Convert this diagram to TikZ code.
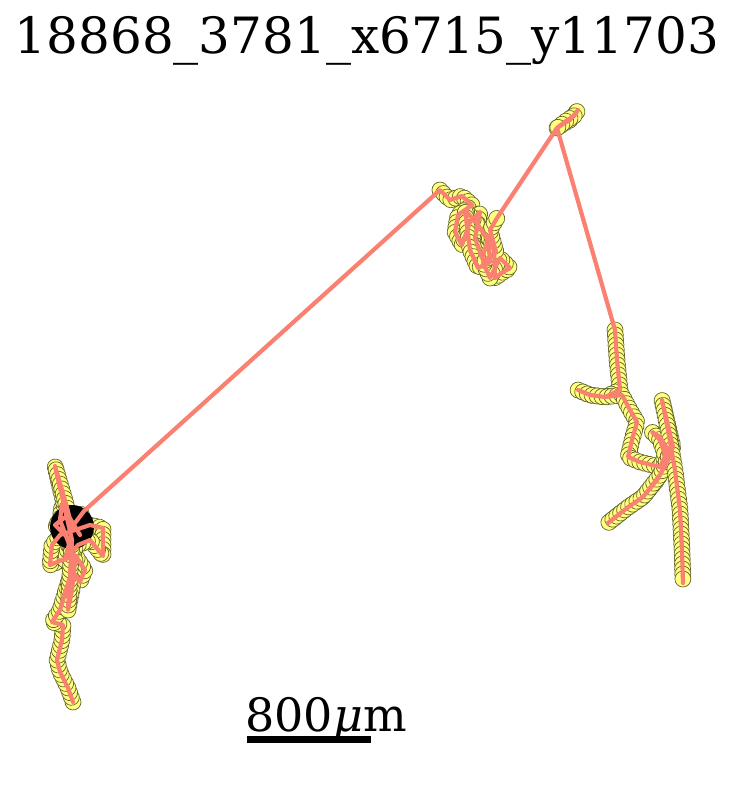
\documentclass[tikz,border=0pt]{standalone}
\usepackage{fontspec}
\setmainfont{DejaVu Serif}
\usetikzlibrary{decorations.markings}
\definecolor{trkC}{RGB}{250,128,114}
\definecolor{dotF}{RGB}{255,255,128}
\definecolor{dotE}{RGB}{100,100,45}
\tikzset{
  trk/.style={draw=trkC, line width=4.2pt, line cap=round, line join=round},
  dots/.style={decoration={markings,
      mark=between positions 0 and 1 step 5pt with {\filldraw[fill=dotF, draw=dotE, line width=0.7pt] (0,0) circle (8pt);}},
    decorate}
}
\def\pathL{(73,702) -- (68,688) -- (60,672) -- (57,660) -- (62,640) -- (63,625) -- (52,622) -- (60,610) -- (66,590) -- (72,570) -- (80,582) -- (85,570) -- (75,555) -- (62,560) -- (50,565) -- (52,545) -- (60,535) -- (75,530) -- (90,525) -- (103,528) -- (103,545) -- (103,556) -- (90,540) -- (78,545) -- (65,560) -- (70,540) -- (55,525) -- (68,515) -- (80,535) -- (62,505) -- (60,520) -- (75,560) -- (72,590) -- (68,610) -- (72,540) -- (55,466) -- (65,500) -- (72,527) -- (84,511)}
\def\pathM{(440,190) -- (450,200) -- (462,196) -- (472,205) -- (458,215) -- (455,232) -- (462,245) -- (470,222) -- (480,212) -- (475,238) -- (482,258) -- (488,240) -- (478,225) -- (465,210) -- (470,250) -- (478,268) -- (490,262) -- (488,236) -- (494,248) -- (495,278) -- (503,272) -- (510,268) -- (500,258) -- (490,278) -- (483,262) -- (496,252) -- (490,230) -- (497,218)}
\def\pathT{(557,128) -- (563,124) -- (570,120) -- (578,110) -- (574,116) -- (566,121) -- (557,128)}
\def\pathR{(615,330) -- (617,360) -- (620,390) -- (605,397) -- (590,395) -- (578,390) -- (590,395) -- (605,397) -- (622,395) -- (630,410) -- (637,422) -- (632,440) -- (628,457) -- (640,462) -- (660,467) -- (668,450) -- (660,437) -- (652,432) -- (660,440) -- (665,455) -- (670,457) -- (657,480) -- (643,497) -- (627,508) -- (608,523) -- (627,508) -- (643,497) -- (660,475) -- (673,447) -- (662,400) -- (668,430) -- (675,470) -- (680,510) -- (682,550) -- (683,583)}
\begin{document}
\begin{tikzpicture}[x=1pt,y=-1pt]
\useasboundingbox (0,0) rectangle (734,786);
\node[font=\fontsize{50}{56}\selectfont, anchor=base] (title) at (367,54) {18868\_3781\_x6715\_y11703};
% circles
\path[dots] \pathL;
\path[dots] \pathM;
\path[dots] \pathT;
\path[dots] \pathR;
% start disc
\fill[black] (72,527) circle (22pt);
% track
\draw[trk] \pathL -- \pathM -- (557,128) -- \pathT -- \pathR;
% scale bar
\node[font=\fontsize{46}{50}\selectfont, anchor=base] (lbl) at (326,731) {800{\itshape μ}m};
\fill[black] (247,736) rectangle (371,743);
\end{tikzpicture}
\end{document}
